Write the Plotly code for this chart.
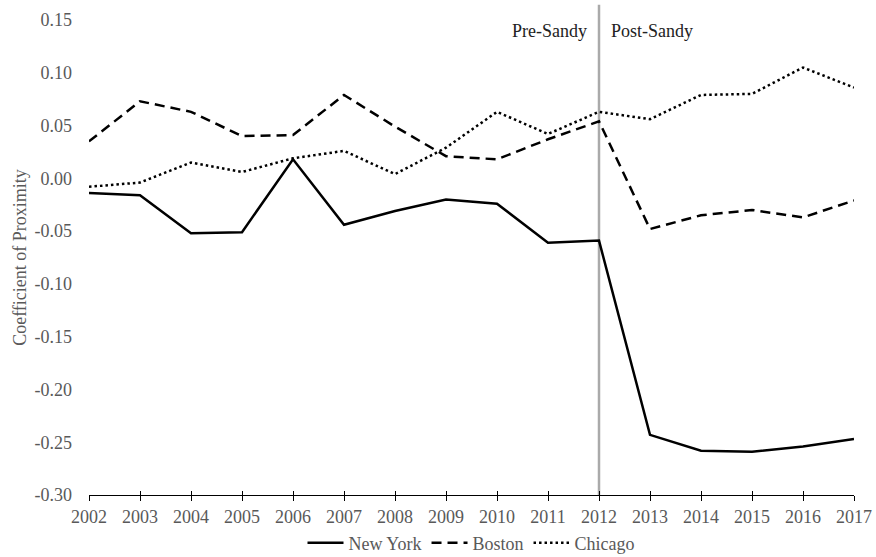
import plotly.graph_objects as go

years = list(range(2002, 2018))
new_york = [-0.014, -0.016, -0.052, -0.051, 0.018, -0.044, -0.031, -0.020, -0.024, -0.061,
            -0.059, -0.243, -0.258, -0.259, -0.254, -0.247]
boston = [0.035, 0.073, 0.063, 0.040, 0.041, 0.079, 0.049, 0.021, 0.018, 0.037,
          0.054, -0.048, -0.035, -0.030, -0.037, -0.021]
chicago = [-0.008, -0.004, 0.015, 0.006, 0.019, 0.026, 0.004, 0.029, 0.063, 0.042,
           0.063, 0.056, 0.079, 0.080, 0.105, 0.086]
y_ticks = [0.15, 0.10, 0.05, 0.00, -0.05, -0.10, -0.15, -0.20, -0.25, -0.30]
y_tick_labels = ["0.15", "0.10", "0.05", "0.00", "-0.05", "-0.10", "-0.15", "-0.20", "-0.25", "-0.30"]
sandy_year = 2012

FONT = "Liberation Serif"
GREY = "#595959"
FS = 18

fig = go.Figure()
fig.add_trace(go.Scatter(x=years, y=new_york, mode="lines", name="New York",
                         line=dict(color="black", width=2.5)))
fig.add_trace(go.Scatter(x=years, y=boston, mode="lines", name="Boston",
                         line=dict(color="black", width=2.5, dash="10px,6px")))
fig.add_trace(go.Scatter(x=years, y=chicago, mode="lines", name="Chicago",
                         line=dict(color="black", width=2.5, dash="2.5px,3px")))
# invisible helper trace on an overlaid axis to draw inward half of crossing ticks
fig.add_trace(go.Scatter(x=years, y=new_york, mode="lines", xaxis="x2",
                         line=dict(color="rgba(0,0,0,0)", width=0),
                         showlegend=False, hoverinfo="skip"))

fig.add_shape(type="line", xref="x", yref="paper", x0=sandy_year, x1=sandy_year,
              y0=0, y1=1.032, line=dict(color="#aaaaaa", width=2.5), layer="below")

fig.add_annotation(x=sandy_year, y=0.14, xref="x", yref="y", text="Pre-Sandy",
                   showarrow=False, xanchor="right", xshift=-10,
                   font=dict(family=FONT, size=FS, color="#222222"))
fig.add_annotation(x=sandy_year, y=0.14, xref="x", yref="y", text="Post-Sandy",
                   showarrow=False, xanchor="left", xshift=10,
                   font=dict(family=FONT, size=FS, color="#222222"))

fig.update_layout(
    width=876, height=557,
    margin=dict(l=89, r=22, t=20, b=62, autoexpand=False),
    plot_bgcolor="white", paper_bgcolor="white",
    font=dict(family=FONT, size=FS, color=GREY),
    showlegend=True,
    legend=dict(orientation="h", x=0.5, xanchor="center", y=-0.062, yanchor="top",
                font=dict(family=FONT, size=FS, color=GREY),
                itemwidth=36, tracegroupgap=0),
    xaxis2=dict(overlaying="x", side="bottom", range=[2002, 2017], tickmode="array",
                tickvals=years, showticklabels=False, ticks="inside", ticklen=4,
                tickcolor="black", showgrid=False, zeroline=False, showline=False,
                automargin=False),
)
fig.update_xaxes(selector=dict(anchor="y"), range=[2002, 2017], tickmode="array", tickvals=years,
                 ticktext=[str(y) for y in years], automargin=False,
                 showgrid=False, zeroline=False, showline=True, linecolor="black",
                 linewidth=1.2, ticks="outside", ticklen=5, tickcolor="black",
                 tickfont=dict(family=FONT, size=FS, color=GREY))
fig.layout.xaxis.update(range=[2002, 2017], tickmode="array", tickvals=years,
                        ticktext=[str(y) for y in years], automargin=False,
                        showgrid=False, zeroline=False, showline=True, linecolor="black",
                        linewidth=1.2, ticks="outside", ticklen=5, tickcolor="black",
                        tickfont=dict(family=FONT, size=FS, color=GREY))
fig.update_yaxes(range=[-0.30, 0.15], tickmode="array", tickvals=y_ticks,
                 ticktext=y_tick_labels, showgrid=False, zeroline=False, showline=False,
                 ticks="", ticklabelstandoff=16, automargin=False,
                 tickfont=dict(family=FONT, size=FS, color=GREY),
                 title=dict(text="Coefficient of Proximity", standoff=3,
                            font=dict(family=FONT, size=FS, color=GREY)))

fig.write_html("out.html", post_script="document.body.style.margin='0';",
               config={"displayModeBar": False})
